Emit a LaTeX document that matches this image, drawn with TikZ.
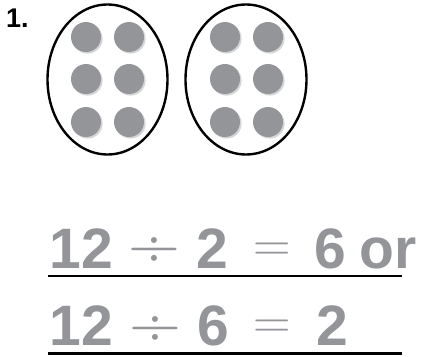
\documentclass[tikz,border=0pt]{standalone}
\usepackage{fontspec}
\setmainfont{Liberation Sans}
\newfontfamily\opfont{Latin Modern Roman}
\usetikzlibrary{calc}

\definecolor{dotgray}{HTML}{939598}
\definecolor{shadegray}{HTML}{D4D5D7}

\tikzset{
  counter/.style={fill=dotgray},
  counter shade/.style={fill=shadegray},
  group/.style={draw=black, line width=2.4pt},
  numtext/.style={text=dotgray, font=\fontsize{57}{60}\selectfont\bfseries, anchor=base, inner sep=0pt},
  optext/.style={text=dotgray, font=\opfont\fontsize{52}{54}\selectfont, anchor=base, inner sep=0pt},
  divtext/.style={optext, font=\opfont\fontsize{72}{74}\selectfont, text depth=0pt},
  rule/.style={draw=black, line width=2.2pt},
}

\begin{document}
\begin{tikzpicture}[x=1pt, y=-1pt]
            \useasboundingbox (0,0) rectangle (425,356);
            % problem number
            \node[anchor=base west, inner sep=0pt, font=\fontsize{27}{29}\selectfont\bfseries] (num) at (6,27.5) {1.};
            % the two groups
            \coordinate (L) at (107.5,79.5);
            \coordinate (R) at (246,79.5);
            \draw[group] (L) ellipse [x radius=60, y radius=75];
            \draw[group] (R) ellipse [x radius=60.5, y radius=75];
            \foreach \cx in {86,129,225,268}
              \foreach \cy in {37,79,122}{
                \fill[counter shade] (\cx+1.6,\cy+1.6) circle (15);
                \fill[counter] (\cx,\cy) circle (15);
              }
            % first sentence
            \node[numtext] (a1) at (81.5,268) {12};
            \node[divtext] (a2) at (154.5,267) {÷};
            \node[numtext] (a3) at (212.5,268) {2};
            \node[optext]  (a4) at (272,261) {=};
            \node[numtext] (a5) at (330,268) {6};
            \node[numtext] (a6) at (388,268) {or};
            \draw[rule] (48,276) -- (402,276);
            % second sentence
            \node[numtext] (b1) at (81.5,345) {12};
            \node[divtext] (b2) at (155.5,346) {÷};
            \node[numtext] (b3) at (213,345) {6};
            \node[optext]  (b4) at (272.5,338) {=};
            \node[numtext] (b5) at (332,345) {2};
            \draw[rule] (48,353.5) -- (402,353.5);
\end{tikzpicture}
\end{document}
